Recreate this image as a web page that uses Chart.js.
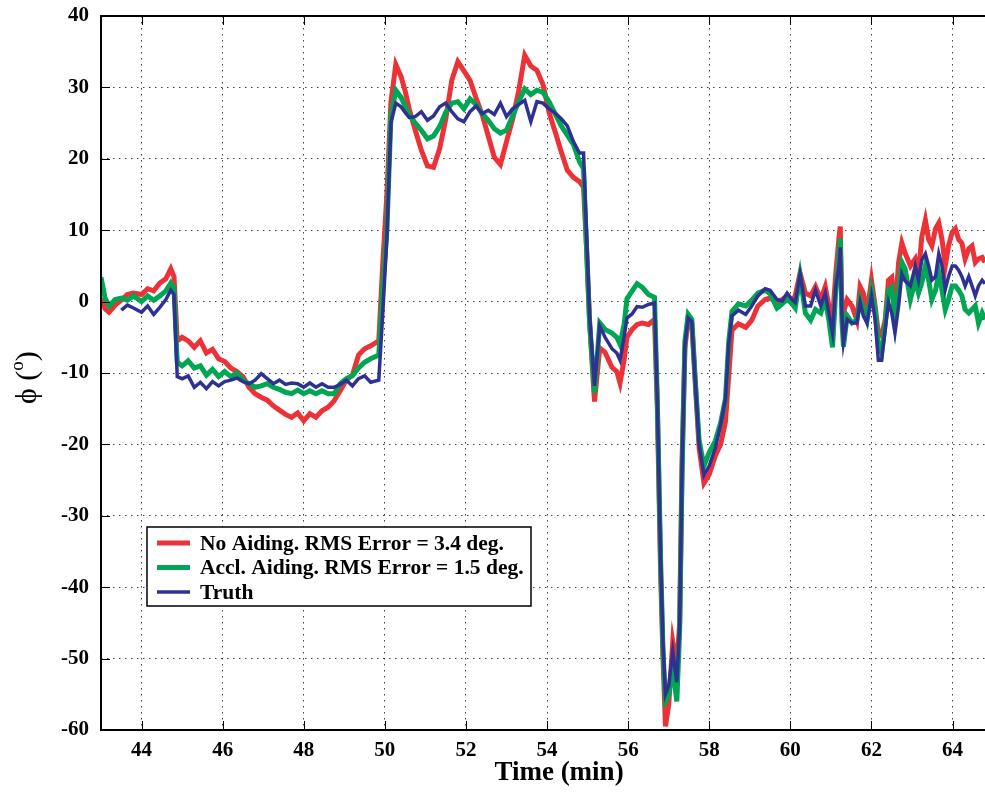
<!DOCTYPE html>
<html lang="en">
<head>
<meta charset="UTF-8">
<title>Roll angle: no aiding vs. accelerometer aiding</title>
<script src="https://cdn.jsdelivr.net/npm/chart.js"></script>
<style>
  html, body { margin: 0; padding: 0; background: #fff; }
  #wrap { width: 985px; height: 793px; }
</style>
</head>
<body>
<div id="wrap"><canvas id="rollChart" width="985" height="793"></canvas></div>
<script>
// time (min) shared by all three traces
const timeMin = [
  43.0, 43.1, 43.2, 43.35, 43.5, 43.65, 43.8, 44.0, 44.15, 44.3,
  44.45, 44.6, 44.72, 44.8, 44.88, 45.0, 45.15, 45.3, 45.45, 45.6,
  45.75, 45.9, 46.05, 46.2, 46.35, 46.5, 46.65, 46.8, 46.95, 47.1,
  47.25, 47.4, 47.55, 47.7, 47.85, 48.0, 48.15, 48.3, 48.45, 48.6,
  48.75, 48.9, 49.05, 49.2, 49.35, 49.5, 49.65, 49.85, 49.95, 50.05,
  50.15, 50.27, 50.4, 50.5, 50.6, 50.75, 50.9, 51.05, 51.2, 51.35,
  51.5, 51.65, 51.8, 51.95, 52.1, 52.25, 52.4, 52.55, 52.7, 52.85,
  53.0, 53.15, 53.3, 53.45, 53.6, 53.75, 53.9, 54.05, 54.2, 54.35,
  54.5, 54.65, 54.8, 54.9, 54.97, 55.05, 55.17, 55.3, 55.43, 55.6,
  55.72, 55.8, 55.9, 55.97, 56.1, 56.22, 56.35, 56.5, 56.65, 56.72,
  56.8, 56.86, 56.92, 57.0, 57.1, 57.2, 57.27, 57.33, 57.4, 57.48,
  57.57, 57.65, 57.75, 57.87, 58.0, 58.15, 58.28, 58.4, 58.48, 58.56,
  58.72, 58.9, 59.05, 59.2, 59.38, 59.5, 59.67, 59.8, 59.92, 60.04,
  60.12, 60.24, 60.37, 60.5, 60.62, 60.75, 60.86, 60.95, 61.04, 61.12,
  61.2, 61.23, 61.27, 61.31, 61.4, 61.52, 61.64, 61.72, 61.8, 61.89,
  62.0, 62.09, 62.17, 62.25, 62.34, 62.42, 62.5, 62.58, 62.67, 62.75,
  62.83, 62.96, 63.08, 63.16, 63.24, 63.33, 63.41, 63.49, 63.58, 63.66,
  63.74, 63.82, 63.9, 63.99, 64.07, 64.15, 64.23, 64.31, 64.4, 64.48,
  64.56, 64.64, 64.73, 64.8
];

// phi (deg), gyro only
const noAiding = [
  0.5, -1.0, -1.5, -0.5, 0.2, 1.0, 1.2, 1.0, 1.8, 1.5,
  2.6, 3.2, 4.6, 3.5, -5.5, -5.0, -5.5, -6.4, -5.5, -7.2,
  -6.7, -8.0, -8.4, -9.3, -9.8, -10.5, -12.0, -12.9, -13.4, -13.8,
  -14.6, -15.2, -15.8, -16.2, -15.6, -16.7, -15.7, -16.2, -15.3, -14.8,
  -13.9, -12.5, -11.0, -10.3, -7.5, -6.6, -6.2, -5.5, 5.5, 15.0,
  28.0, 33.2, 31.5, 29.5, 27.0, 24.0, 21.2, 19.0, 18.8, 21.4,
  25.5, 31.0, 33.6, 32.3, 31.0, 28.5, 26.2, 23.2, 20.2, 19.2,
  22.4, 25.5, 29.5, 34.5, 33.0, 32.4, 30.4, 26.5, 23.8, 21.0,
  18.4, 17.4, 16.8, 16.0, 8.0, -3.0, -14.0, -6.5, -7.1, -9.2,
  -9.8, -11.4, -8.2, -5.0, -3.9, -3.2, -3.0, -3.2, -2.5, -15.0,
  -38.0, -50.0, -59.5, -56.5, -47.6, -51.0, -45.0, -22.0, -6.5, -2.5,
  -3.0, -11.0, -20.5, -25.4, -24.2, -21.6, -20.0, -16.8, -10.4, -4.0,
  -3.1, -3.6, -2.6, -0.6, 0.3, 0.5, -0.1, 0.3, 0.8, 0.1,
  0.8, 4.0, 1.2, 0.8, 2.1, 0.3, 2.1, -0.6, -2.4, 3.9,
  9.0, 10.5, -0.6, -1.6, 0.3, -0.6, -2.6, 2.1, 1.2, -1.6,
  3.0, -0.6, -4.4, -4.8, -2.5, 3.0, 3.4, -1.6, 5.5, 8.2,
  6.8, 5.0, 6.0, 3.9, 9.0, 11.4, 8.7, 7.8, 10.2, 11.0,
  8.7, 5.0, 7.8, 9.7, 10.2, 8.7, 8.2, 6.0, 7.4, 7.8,
  5.5, 6.0, 6.2, 5.5
];

// phi (deg), with accelerometer aiding
const acclAiding = [
  3.4, 0.5, -0.6, 0.3, 0.5, 0.2, 0.8, 0.0, 0.8, 0.2,
  0.8, 1.5, 2.6, 1.8, -8.5, -9.0, -8.3, -9.3, -9.0, -10.3,
  -9.5, -10.5, -9.8, -10.5, -10.0, -11.0, -11.5, -12.0, -11.8, -11.5,
  -12.0, -12.3, -12.7, -12.9, -12.4, -12.9, -12.5, -12.9, -12.5, -12.9,
  -12.9, -11.5, -10.8, -10.4, -9.3, -8.5, -8.0, -7.5, 2.0, 10.0,
  26.0, 29.6, 28.6, 27.4, 26.2, 25.0, 24.0, 22.8, 23.2, 24.5,
  26.5, 27.8, 28.0, 27.0, 28.4, 27.6, 26.3, 25.4, 24.2, 23.6,
  24.0, 26.0, 28.0, 29.8, 29.0, 29.6, 29.3, 28.0, 26.3, 24.6,
  23.3, 22.0, 19.6, 18.6, 8.0, -3.0, -12.8, -3.0, -3.9, -4.4,
  -5.0, -6.0, -3.2, 0.4, 1.5, 2.5, 2.0, 1.0, 0.6, -14.0,
  -36.0, -49.0, -56.0, -55.2, -51.1, -56.0, -46.0, -24.0, -5.5, -1.8,
  -2.5, -10.5, -19.5, -23.0, -21.1, -19.5, -17.0, -13.6, -5.6, -1.4,
  -0.3, -0.6, 0.2, 1.2, 1.6, 1.1, -0.9, -0.3, 0.3, -0.3,
  -0.9, 3.6, -1.6, -2.6, -1.1, -1.6, 0.3, -2.6, -6.4, 1.6,
  6.5, 8.9, -2.6, -6.3, -2.0, -3.0, -2.6, 0.3, -1.0, -2.6,
  1.6, -1.1, -6.3, -7.2, -3.0, 1.6, 2.0, -2.6, 1.6, 5.5,
  4.6, 0.3, 3.0, 1.2, 2.6, 5.0, 3.0, 0.3, 1.6, 4.0,
  1.6, -1.1, 0.3, 2.2, 2.2, 1.6, 0.8, -1.1, -1.6, -1.1,
  -0.6, -3.0, -1.6, -2.5
];

// phi (deg), reference attitude
const truth = [
  null, null, null, null, -1.2, -0.5, -0.9, -1.5, -0.6, -1.8,
  -0.8, 0.3, 1.6, 1.0, -10.5, -10.8, -10.4, -12.0, -11.3, -12.2,
  -11.2, -11.8, -11.2, -11.0, -10.7, -11.2, -11.5, -11.0, -10.1, -10.8,
  -11.5, -11.0, -11.6, -11.4, -11.5, -12.0, -11.4, -12.0, -11.5, -12.0,
  -12.0, -11.6, -11.0, -11.8, -10.8, -10.4, -11.3, -11.0, -1.5, 9.0,
  25.0, 27.8, 27.3, 26.5, 25.8, 25.9, 26.6, 25.4, 26.0, 27.3,
  27.8, 26.6, 25.6, 25.2, 26.6, 27.4, 26.3, 26.8, 26.2, 27.8,
  25.9, 27.0, 27.6, 28.2, 25.2, 28.0, 27.8, 27.0, 26.4, 25.6,
  24.6, 22.4, 20.8, 20.8, 10.0, -2.0, -11.8, -3.4, -5.0, -6.6,
  -7.2, -8.2, -5.0, -2.3, -1.7, -0.7, -0.8, -0.4, -0.2, -14.0,
  -36.0, -48.0, -55.0, -53.8, -49.0, -53.3, -45.5, -23.0, -6.0, -2.3,
  -2.8, -10.8, -20.0, -24.3, -23.0, -20.5, -17.3, -13.6, -6.0, -2.0,
  -1.2, -1.8, -0.6, 0.8, 1.8, 1.6, 0.3, 0.1, 1.2, 0.3,
  -0.1, 3.8, -0.6, -0.6, 1.6, -0.6, 1.2, -1.6, -4.4, 2.1,
  5.0, 7.6, -1.6, -5.7, -2.5, -3.0, -3.0, -0.1, -2.0, -3.0,
  0.8, -2.5, -8.2, -8.2, -3.9, -0.1, -1.6, -4.4, -0.6, 3.9,
  2.9, 2.2, 5.0, 3.0, 5.8, 6.7, 5.0, 3.0, 3.5, 6.7,
  5.0, 1.7, 3.5, 5.0, 5.0, 4.4, 3.5, 2.2, 3.5, 2.2,
  0.8, 2.2, 3.0, 2.5
];

const xTicks = [44, 46, 48, 50, 52, 54, 56, 58, 60, 62, 64];
const yTicks = [-60, -50, -40, -30, -20, -10, 0, 10, 20, 30, 40];

const SERIF = '"Liberation Serif", "Times New Roman", serif';

function trace(label, values, color, width, order) {
  return {
    label: label,
    data: timeMin.map((t, i) => ({ x: t, y: values[i] })),
    borderColor: color,
    backgroundColor: color,
    borderWidth: width,
    pointRadius: 0,
    tension: 0,
    spanGaps: false,
    order: order
  };
}

// box outline, inward tick marks
const frame = {
  id: 'frame',
  afterDatasetsDraw(chart) {
    const { ctx, chartArea: a, scales: { x, y } } = chart;
    ctx.save();
    ctx.strokeStyle = '#000';
    ctx.lineWidth = 1;
    ctx.beginPath();
    xTicks.forEach(v => {
      const px = Math.round(x.getPixelForValue(v)) + 0.5;
      ctx.moveTo(px, a.bottom); ctx.lineTo(px, a.bottom - 9);
      ctx.moveTo(px, a.top); ctx.lineTo(px, a.top + 9);
    });
    yTicks.forEach(v => {
      const py = Math.round(y.getPixelForValue(v)) + 0.5;
      ctx.moveTo(a.left, py); ctx.lineTo(a.left + 9, py);
    });
    ctx.stroke();
    ctx.lineWidth = 2;
    ctx.beginPath();
    ctx.moveTo(a.right, a.top); ctx.lineTo(a.left, a.top);
    ctx.lineTo(a.left, a.bottom); ctx.lineTo(a.right, a.bottom);
    ctx.stroke();
    ctx.restore();
  }
};

// legend box inside the plot
const boxLegend = {
  id: 'boxLegend',
  afterDraw(chart) {
    const { ctx, chartArea: a } = chart;
    const bx = a.left + 46, by = 527, bw = 384, bh = 79;
    ctx.save();
    ctx.fillStyle = '#fff';
    ctx.fillRect(bx, by, bw, bh);
    ctx.strokeStyle = '#000';
    ctx.lineWidth = 1.5;
    ctx.strokeRect(bx, by, bw, bh);
    ctx.font = 'bold 21.5px ' + SERIF;
    ctx.textBaseline = 'middle';
    ctx.textAlign = 'left';
    chart.data.datasets.forEach((ds, i) => {
      const ry = by + 16 + i * 24.5;
      ctx.strokeStyle = ds.borderColor;
      ctx.lineWidth = ds.borderWidth;
      ctx.beginPath();
      ctx.moveTo(bx + 10, ry); ctx.lineTo(bx + 43, ry);
      ctx.stroke();
      ctx.fillStyle = '#000';
      ctx.fillText(ds.label, bx + 53, ry + 1);
    });
    ctx.restore();
  }
};

// axis titles
const axisTitles = {
  id: 'axisTitles',
  afterDraw(chart) {
    const { ctx } = chart;
    ctx.save();
    ctx.fillStyle = '#000';
    ctx.font = 'bold 27px ' + SERIF;
    ctx.textAlign = 'center';
    ctx.textBaseline = 'middle';
    ctx.fillText('Time (min)', 559, 773);

    ctx.translate(36, 392);
    ctx.rotate(-Math.PI / 2);
    ctx.textAlign = 'left';
    ctx.textBaseline = 'alphabetic';
    ctx.font = '30px ' + SERIF;
    let cx = -12;
    ctx.fillText('ϕ (', cx, 0);
    cx += ctx.measureText('ϕ (').width;
    ctx.font = '19px ' + SERIF;
    ctx.fillText('o', cx, -13);
    cx += ctx.measureText('o').width;
    ctx.font = '30px ' + SERIF;
    ctx.fillText(')', cx, 0);
    ctx.restore();
  }
};

const tickFont = { family: SERIF, size: 21, weight: 'bold' };
const dotted = { color: 'rgba(0,0,0,0.75)', lineWidth: 1, drawTicks: false };

new Chart(document.getElementById('rollChart'), {
  type: 'line',
  data: {
    datasets: [
      trace('No Aiding. RMS Error = 3.4 deg.', noAiding, '#ed3237', 5, 3),
      trace('Accl. Aiding. RMS Error = 1.5 deg.', acclAiding, '#00a651', 5, 2),
      trace('Truth', truth, '#2e3192', 3.5, 1)
    ]
  },
  options: {
    responsive: false,
    animation: false,
    devicePixelRatio: 1,
    layout: { padding: { top: 16, right: 0, bottom: 0, left: 0 } },
    plugins: { legend: { display: false }, tooltip: { enabled: false } },
    scales: {
      x: {
        type: 'linear',
        min: 43,
        max: 64.8,
        afterBuildTicks: s => { s.ticks = xTicks.map(v => ({ value: v })); },
        afterFit: s => { s.height = 63; s.paddingLeft = 0; s.paddingRight = 0; },
        grid: dotted,
        border: { display: false, dash: [1.5, 4.5] },
        ticks: { font: tickFont, color: '#000', padding: 8, maxRotation: 0 }
      },
      y: {
        type: 'linear',
        min: -60,
        max: 40,
        afterBuildTicks: s => { s.ticks = yTicks.map(v => ({ value: v })); },
        afterFit: s => { s.width = 101; s.paddingTop = 0; s.paddingBottom = 0; },
        grid: dotted,
        border: { display: false, dash: [1.5, 4.5] },
        ticks: { font: tickFont, color: '#000', padding: 12 }
      }
    }
  },
  plugins: [frame, boxLegend, axisTitles]
});
</script>
</body>
</html>
